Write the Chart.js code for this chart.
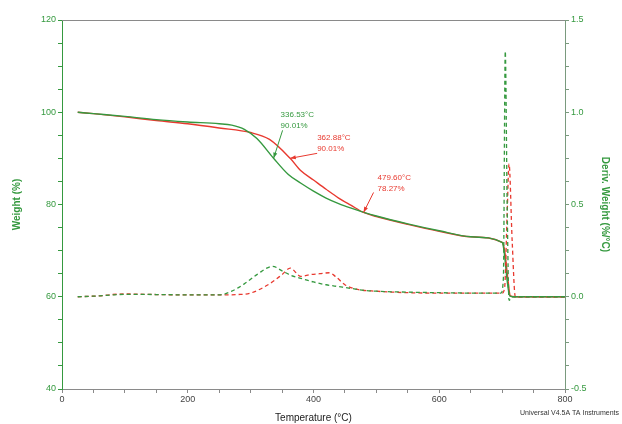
<!DOCTYPE html>
<html>
<head>
<meta charset="utf-8">
<script src="https://cdn.jsdelivr.net/npm/chart.js@4/dist/chart.umd.min.js"></script>
<style>
  html, body { margin: 0; padding: 0; background: #fff; }
  #wrap { width: 622px; height: 424px; }
</style>
</head>
<body>
<div id="wrap"><canvas id="tga" width="622" height="424"></canvas></div>
<script>
// --- TGA data ---
const GREEN = '#35993f';
const RED = '#e8392f';

// weight curves (left axis, %)
const greenWeightT = [25, 50, 100, 150, 200, 250, 270, 290, 310, 336.53, 360, 380, 400, 420, 440, 460, 480, 500, 550, 600, 650, 700, 703, 708, 712, 720, 800];
const greenWeight = [100, 99.7, 99.1, 98.4, 97.9, 97.5, 97.2, 96.3, 94.3, 90.01, 86.5, 84.6, 82.9, 81.4, 80.2, 79.2, 78.3, 77.5, 75.8, 74.3, 73.0, 71.8, 70.0, 63.5, 60.2, 60, 60];

const redWeightT = [25, 50, 100, 150, 200, 250, 300, 330, 362.88, 380, 400, 420, 440, 460, 479.6, 500, 550, 600, 650, 700, 704, 709, 713, 720, 800];
const redWeight = [100, 99.7, 99.0, 98.2, 97.5, 96.6, 95.6, 94.1, 90.01, 87.3, 85.3, 83.3, 81.4, 79.8, 78.27, 77.4, 75.7, 74.2, 73.0, 71.8, 70.0, 64.0, 60.2, 60, 60];

// derivative curves (right axis, %/°C)
const greenDerivT = [25, 60, 80, 100, 150, 200, 250, 270, 290, 310, 335, 350, 365, 380, 400, 420, 440, 460, 480, 500, 550, 600, 650, 698, 702, 705, 708, 711, 716, 800];
const greenDeriv = [0, 0.005, 0.01, 0.013, 0.012, 0.01, 0.01, 0.03, 0.07, 0.12, 0.165, 0.14, 0.115, 0.1, 0.08, 0.065, 0.055, 0.045, 0.035, 0.03, 0.025, 0.022, 0.02, 0.02, 0.1, 1.33, 0.5, -0.02, 0, 0];

const redDerivT = [25, 60, 80, 100, 150, 200, 250, 280, 300, 330, 350, 363, 380, 395, 410, 425, 435, 450, 470, 500, 550, 600, 650, 700, 704, 708, 711, 716, 721, 800];
const redDeriv = [0, 0.005, 0.012, 0.015, 0.012, 0.01, 0.01, 0.012, 0.02, 0.07, 0.12, 0.155, 0.11, 0.12, 0.125, 0.13, 0.11, 0.065, 0.04, 0.03, 0.022, 0.02, 0.02, 0.02, 0.05, 0.45, 0.72, 0.3, 0, 0];

// tick labels
const xTicks = [0, 200, 400, 600, 800];
const yTicks = [40, 60, 80, 100, 120];
const y2Ticks = [-0.5, 0, 0.5, 1, 1.5];

// annotated points: [temp, weight, label lines, colour]
const notes = [
  [336.53, 90.01, ['336.53°C', '90.01%'], GREEN],
  [362.88, 90.01, ['362.88°C', '90.01%'], RED],
  [479.6, 78.27, ['479.60°C', '78.27%'], RED],
];
// label offset from the arrow tip, then arrow tail offset, in pixels
const noteOffsets = [[7, -44, 9, -28], [27, -21, 27, -5], [14, -35, 10, -20]];

const pts = (xs, ys) => xs.map((x, i) => ({ x, y: ys[i] }));

const FONT = 'Liberation Sans, Arial, sans-serif';

const frame = {
  id: 'frame',
  beforeDatasetsDraw(chart) {
    const { ctx, chartArea: a } = chart;
    ctx.save();
    ctx.strokeStyle = '#8a8a8a';
    ctx.lineWidth = 1;
    ctx.beginPath();
    ctx.moveTo(a.left, a.top + 0.5);
    ctx.lineTo(a.right, a.top + 0.5);
    ctx.stroke();
    ctx.restore();
  },
  afterDraw(chart) {
    const { ctx } = chart;
    const xs = chart.scales.x, ys = chart.scales.y;
    ctx.save();
    ctx.font = '8px ' + FONT;
    notes.forEach((n, i) => {
      const tx = xs.getPixelForValue(n[0]);
      const ty = ys.getPixelForValue(n[1]);
      const [lx, ly, sx, sy] = noteOffsets[i];
      ctx.fillStyle = n[3];
      ctx.strokeStyle = n[3];
      ctx.textBaseline = 'middle';
      ctx.fillText(n[2][0], tx + lx, ty + ly);
      ctx.fillText(n[2][1], tx + lx, ty + ly + 11);
      // arrow
      ctx.lineWidth = 1;
      ctx.beginPath();
      ctx.moveTo(tx + sx, ty + sy);
      ctx.lineTo(tx, ty);
      ctx.stroke();
      const ang = Math.atan2(-sy, -sx);
      ctx.beginPath();
      ctx.moveTo(tx, ty);
      ctx.lineTo(tx - 6 * Math.cos(ang - 0.35), ty - 6 * Math.sin(ang - 0.35));
      ctx.lineTo(tx - 6 * Math.cos(ang + 0.35), ty - 6 * Math.sin(ang + 0.35));
      ctx.closePath();
      ctx.fill();
    });
    ctx.fillStyle = '#333';
    ctx.font = '7px ' + FONT;
    ctx.textAlign = 'right';
    ctx.fillText('Universal V4.5A TA Instruments', 619, 413);
    ctx.restore();
  },
};

const line = (data, color, dashed, axis) => ({
  data,
  borderColor: color,
  borderWidth: dashed ? 1.3 : 1.4,
  borderDash: dashed ? [4, 3] : [],
  pointRadius: 0,
  showLine: true,
  tension: 0.3,
  cubicInterpolationMode: 'monotone',
  yAxisID: axis,
});

new Chart(document.getElementById('tga'), {
  type: 'scatter',
  data: {
    datasets: [
      line(pts(greenDerivT, greenDeriv), GREEN, true, 'y2'),
      line(pts(redDerivT, redDeriv), RED, true, 'y2'),
      line(pts(greenWeightT, greenWeight), GREEN, false, 'y'),
      line(pts(redWeightT, redWeight), RED, false, 'y'),
    ],
  },
  options: {
    responsive: false,
    animation: false,
    layout: { padding: { top: 20, left: 0, right: 0, bottom: 0 } },
    plugins: { legend: { display: false }, tooltip: { enabled: false } },
    scales: {
      x: {
        type: 'linear',
        min: 0,
        max: 800,
        afterFit: (s) => { s.height = 35; },
        afterBuildTicks: (s) => { s.ticks = Array.from({ length: 17 }, (_, i) => ({ value: i * 50 })); },
        ticks: {
          color: '#444',
          font: { size: 9, family: FONT },
          padding: 1,
          maxRotation: 0,
          autoSkip: false,
          callback: (v) => (xTicks.includes(v) ? v : ''),
        },
        grid: { drawOnChartArea: false, tickLength: 4, color: '#8a8a8a' },
        border: { color: '#8a8a8a' },
        title: { display: true, text: 'Temperature (°C)', color: '#222', font: { size: 10, family: FONT }, padding: { top: 2, bottom: 0 } },
      },
      y: {
        position: 'left',
        min: 40,
        max: 120,
        afterFit: (s) => { s.width = 62; },
        afterBuildTicks: (s) => { s.ticks = Array.from({ length: 17 }, (_, i) => ({ value: 40 + i * 5 })); },
        ticks: {
          color: GREEN,
          font: { size: 9, family: FONT },
          padding: 2,
          autoSkip: false,
          callback: (v) => (yTicks.includes(v) ? v : ''),
        },
        grid: { drawOnChartArea: false, tickLength: 4, color: GREEN },
        border: { color: GREEN },
        title: { display: true, text: 'Weight (%)', color: GREEN, font: { size: 10, weight: 'bold', family: FONT }, padding: { top: 11, bottom: 0 } },
      },
      y2: {
        position: 'right',
        min: -0.5,
        max: 1.5,
        afterFit: (s) => { s.width = 57; },
        afterBuildTicks: (s) => { s.ticks = Array.from({ length: 17 }, (_, i) => ({ value: -0.5 + i * 0.125 })); },
        ticks: {
          color: GREEN,
          font: { size: 9, family: FONT },
          padding: 2,
          autoSkip: false,
          callback: (v) => (y2Ticks.includes(v) ? v.toFixed(1) : ''),
        },
        grid: { drawOnChartArea: false, tickLength: 4, color: '#7a9a7e' },
        border: { color: '#7a9a7e' },
        title: { display: true, text: 'Deriv. Weight (%/°C)', color: GREEN, font: { size: 10, weight: 'bold', family: FONT }, padding: { top: 11, bottom: 0 } },
      },
    },
  },
  plugins: [frame],
});
</script>
</body>
</html>
